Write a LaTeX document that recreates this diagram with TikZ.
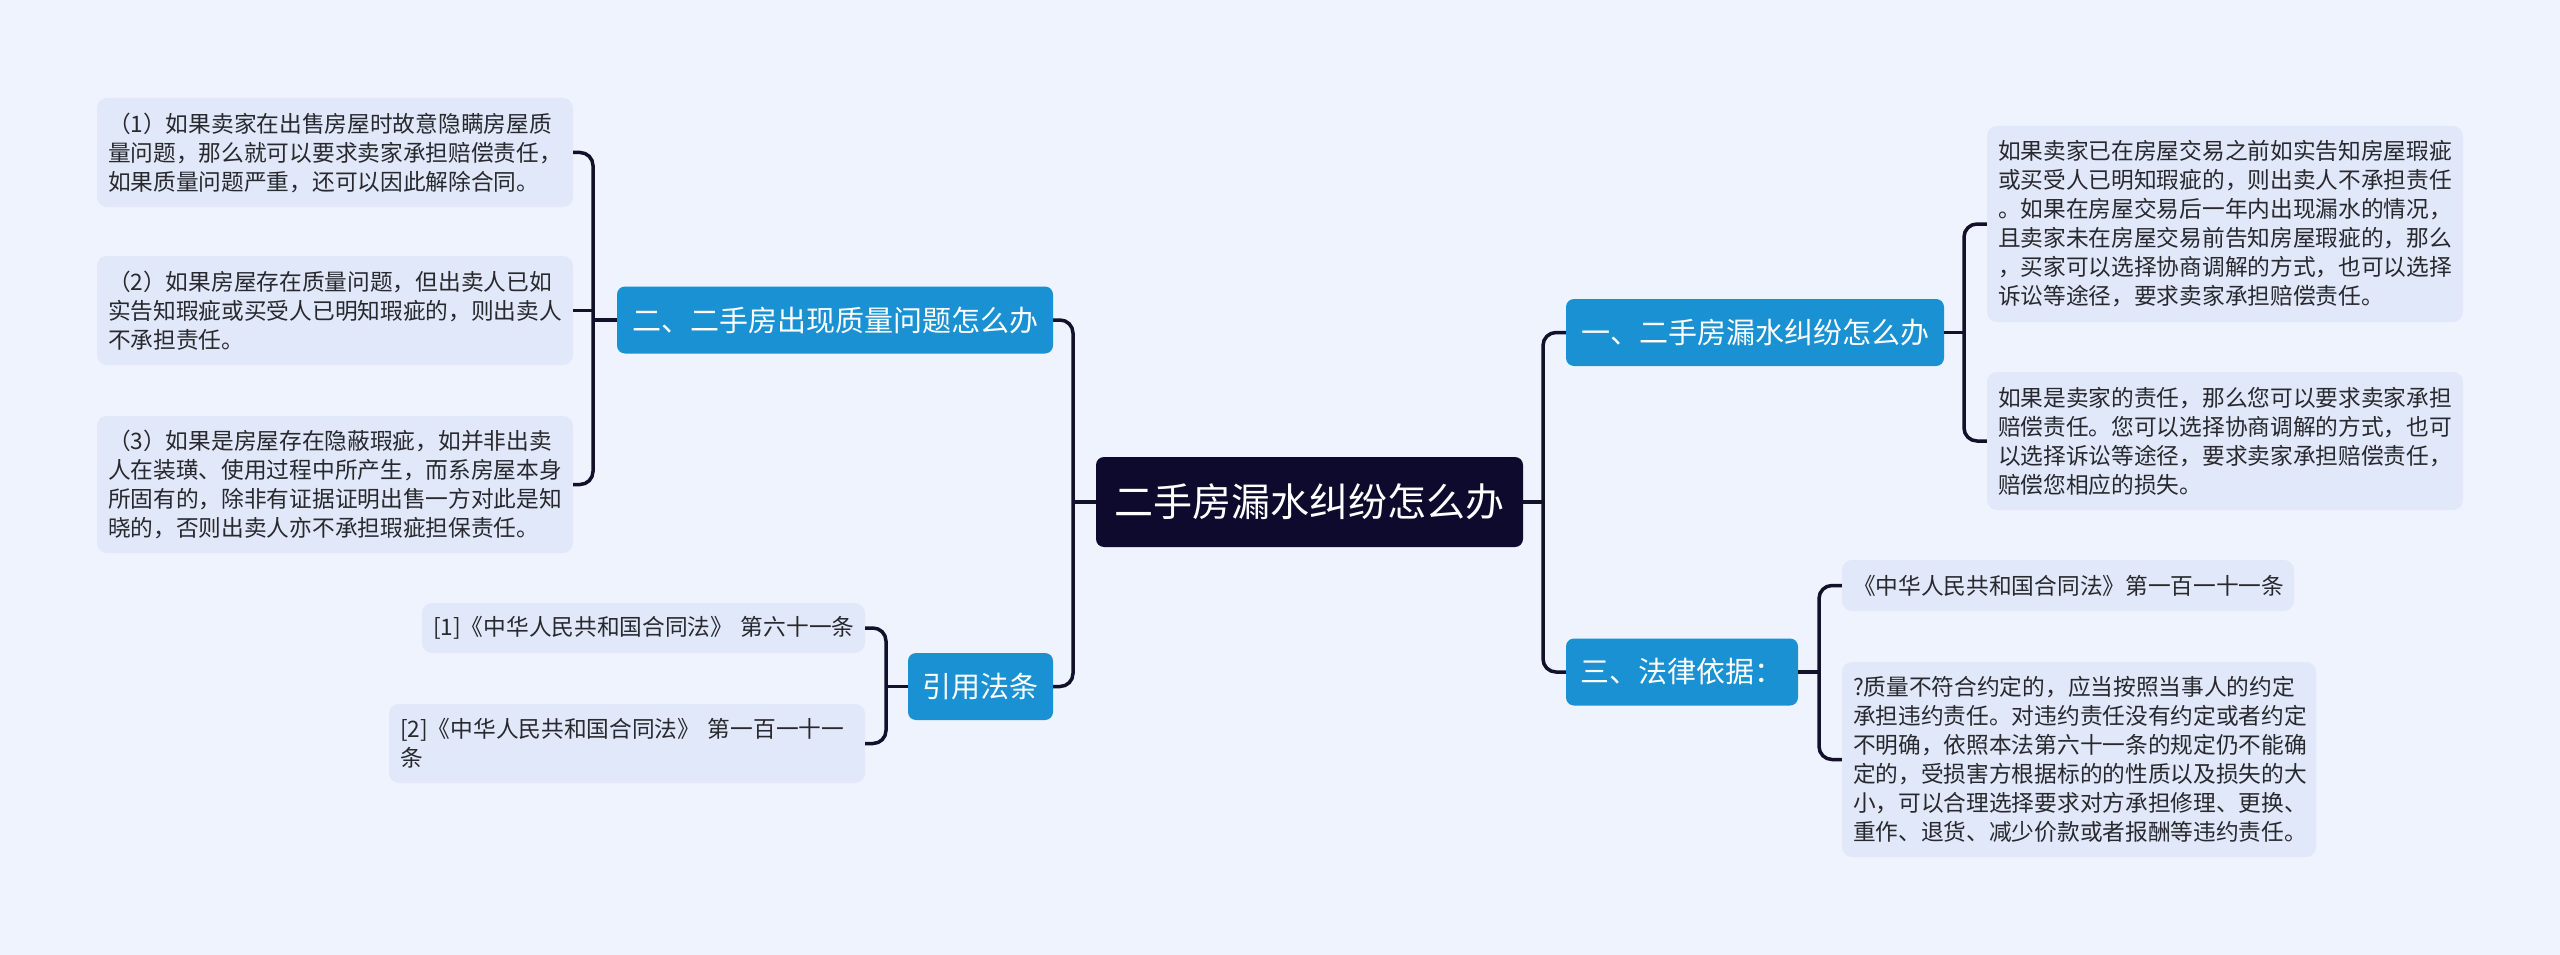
\documentclass[tikz,border=0pt]{standalone}
\usepackage{fontspec}
\setmainfont{Noto Sans CJK SC}
\definecolor{bgc}{RGB}{238,243,254}
\definecolor{leafc}{RGB}{224,232,250}
\definecolor{branchc}{RGB}{26,145,210}
\definecolor{rootc}{RGB}{14,10,45}
\definecolor{linec}{RGB}{18,16,42}
\definecolor{txtc}{RGB}{40,40,45}
\tikzset{
  leaf/.style={fill=leafc, rounded corners=10pt, inner xsep=11pt, inner ysep=0pt, align=left, text=txtc, font={\fontsize{22.7}{29}\selectfont}},
  branch/.style={fill=branchc, rounded corners=8pt, inner sep=0pt, text=white, minimum height=67pt, font={\fontsize{29}{34}\selectfont}},
  rootnode/.style={fill=rootc, rounded corners=8pt, inner sep=0pt, text=white, font={\fontsize{39}{46}\selectfont}},
  conn/.style={draw=linec, line width=3.5pt, rounded corners=13pt},
}
\begin{document}
\begin{tikzpicture}[x=1pt,y=-1pt]
\fill[bgc] (0,0) rectangle (2560,955);
\useasboundingbox (0,0) rectangle (2560,955);

% root
\node[rootnode, minimum width=427pt, minimum height=90pt] (root) at (1309.5,502) {二手房漏水纠纷怎么办};

% branches
\node[branch, minimum width=378pt] (b1) at (1755,332.5) {一、二手房漏水纠纷怎么办};
\node[branch, minimum width=232pt] (b3) at (1682,672) {三、法律依据：};
\node[branch, minimum width=436pt] (b2) at (835,320) {二、二手房出现质量问题怎么办};
\node[branch, minimum width=145pt] (ref) at (980.5,686.5) {引用法条};

% left leaves
\node[leaf, text width=454pt, minimum height=109pt] (l1) at (335,152.5) {（1）如果卖家在出售房屋时故意隐瞒房屋质\\量问题，那么就可以要求卖家承担赔偿责任，\\如果质量问题严重，还可以因此解除合同。};
\node[leaf, text width=454pt, minimum height=109pt] (l2) at (335,310.5) {（2）如果房屋存在质量问题，但出卖人已如\\实告知瑕疵或买受人已明知瑕疵的，则出卖人\\不承担责任。};
\node[leaf, text width=454pt, minimum height=137pt] (l3) at (335,484.5) {（3）如果是房屋存在隐蔽瑕疵，如并非出卖\\人在装璜、使用过程中所产生，而系房屋本身\\所固有的，除非有证据证明出售一方对此是知\\晓的，否则出卖人亦不承担瑕疵担保责任。};

% cited laws
\node[leaf, text width=421pt, minimum height=50pt] (r1) at (643.5,628) {\mbox{[1]《中华人民共和国合同法》 第六十一条}};
\node[leaf, text width=454pt, minimum height=79pt] (r2) at (627,743.5) {\mbox{[2]《中华人民共和国合同法》 第一百一十一}\\条};

% right leaves
\node[leaf, text width=454pt, minimum height=196pt] (rl1) at (2225,224) {如果卖家已在房屋交易之前如实告知房屋瑕疵\\或买受人已明知瑕疵的，则出卖人不承担责任\\。如果在房屋交易后一年内出现漏水的情况，\\且卖家未在房屋交易前告知房屋瑕疵的，那么\\，买家可以选择协商调解的方式，也可以选择\\诉讼等途径，要求卖家承担赔偿责任。};
\node[leaf, text width=454pt, minimum height=138pt] (rl2) at (2225,441) {如果是卖家的责任，那么您可以要求卖家承担\\赔偿责任。您可以选择协商调解的方式，也可\\以选择诉讼等途径，要求卖家承担赔偿责任，\\赔偿您相应的损失。};

% legal basis leaves
\node[leaf, text width=430pt, minimum height=51pt] (ll1) at (2068,585.5) {《中华人民共和国合同法》第一百一十一条};
\node[leaf, text width=452pt, minimum height=195pt] (ll2) at (2079,759.5) {?质量不符合约定的，应当按照当事人的约定\\承担违约责任。对违约责任没有约定或者约定\\不明确，依照本法第六十一条的规定仍不能确\\定的，受损害方根据标的的性质以及损失的大\\小，可以合理选择要求对方承担修理、更换、\\重作、退货、减少价款或者报酬等违约责任。};

% junction coordinates
\coordinate (lv) at (1073,502);
\coordinate (rv) at (1543,502);
\coordinate (lb) at (593,320);
\coordinate (rb) at (886,686.5);
\coordinate (rlb) at (1964,332.5);
\coordinate (llb) at (1819,672);

% connectors
\draw[conn] (root.west) -- (lv);
\draw[conn] (b2.east) -| (lv) |- (ref.east);
\draw[conn] (root.east) -- (rv);
\draw[conn] (b1.west) -| (rv) |- (b3.west);

\draw[conn] (b2.west) -- (lb);
\draw[conn] (l1.east) -| (lb) |- (l3.east);
\draw[conn] (l2.east) -- (l2.east -| lb);

\draw[conn] (ref.west) -- (rb);
\draw[conn] (r1.east) -| (rb) |- (r2.east);

\draw[conn] (b1.east) -- (rlb);
\draw[conn] (rl1.west) -| (rlb) |- (rl2.west);

\draw[conn] (b3.east) -- (llb);
\draw[conn] (ll1.west) -| (llb) |- (ll2.west);
\end{tikzpicture}
\end{document}
